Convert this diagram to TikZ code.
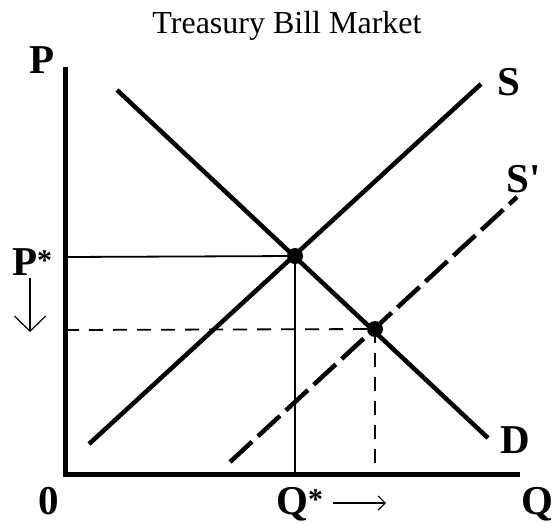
\documentclass[tikz,border=0pt]{standalone}
\usepackage{fontspec}
\setmainfont{Liberation Serif}
\newfontfamily\lblfont{Liberation Serif}[Ligatures=TeXOff]
\newcommand{\smstar}{{\fontsize{30}{30}\selectfont\raisebox{5pt}{*}}}
\usetikzlibrary{arrows.meta}
\begin{document}
\begin{tikzpicture}[x=1pt,y=-1pt,
  axis/.style={line width=5pt},
  curve/.style={line width=4.5pt},
  guide/.style={line width=1.8pt},
  dguide/.style={line width=1.8pt,dash pattern=on 14pt off 10pt},
  lbl/.style={font=\lblfont\fontsize{41}{41}\selectfont\bfseries,inner sep=0pt},
  dot/.style={circle,fill=black,inner sep=0pt,minimum size=16pt}]
\useasboundingbox (0,0) rectangle (554,523);
\node[font=\fontsize{32}{32}\selectfont,anchor=base,inner sep=0pt] (title) at (287,33) {Treasury Bill Market};
% axes
\coordinate (ytop) at (65,67);
\coordinate (orig) at (65,474);
\coordinate (xend) at (520,474);
\draw[axis] (ytop) -- (orig) -- (xend);
% equilibrium points
\node[dot] (e1) at (295,256) {};
\node[dot] (e2) at (375,329) {};
% guide lines
\coordinate (pstar) at (65,257);
\coordinate (qstar) at (295,474);
\coordinate (p2) at (65,330);
\coordinate (q2) at (375,474);
\draw[guide] (pstar) -- (e1.center) -- (qstar);
\draw[dguide] (p2) -- (e2.center);
\draw[dguide] (e2.center) -- (q2);
% curves
\coordinate (d1) at (117,90);
\coordinate (d2) at (488,438);
\coordinate (s1) at (89,444);
\coordinate (s2) at (481,84);
\coordinate (sp1) at (230,462);
\coordinate (sp2) at (517,197);
\draw[curve] (d1) -- (d2);
\draw[curve] (s1) -- (s2);
\draw[curve,dash pattern=on 30pt off 8pt] (sp1) -- (sp2);
% labels
\node[lbl] (lP) at (42,60) {P};
\node[lbl,anchor=base west] (lPs) at (12,275) {P\smstar};
\node[lbl,anchor=base] (l0) at (49,514) {0};
\node[lbl,anchor=base west] (lQs) at (276,514) {Q\smstar};
\node[lbl,anchor=base] (lQ) at (537,514) {Q};
\node[lbl] (lD) at (515,440) {D};
\node[lbl] (lS) at (509,82) {S};
\node[lbl,anchor=base west] (lSp) at (506,192) {S'};
% arrows
\coordinate (da1) at (30,278);
\coordinate (da2) at (30,332);
\draw[line width=1.2pt,-{Straight Barb[length=15pt,width=31pt]}] (da1) -- (da2);
\coordinate (ra1) at (333,503);
\coordinate (ra2) at (386,503);
\draw[line width=1.2pt,-{Straight Barb[length=7pt,width=14pt]}] (ra1) -- (ra2);
\end{tikzpicture}
\end{document}
